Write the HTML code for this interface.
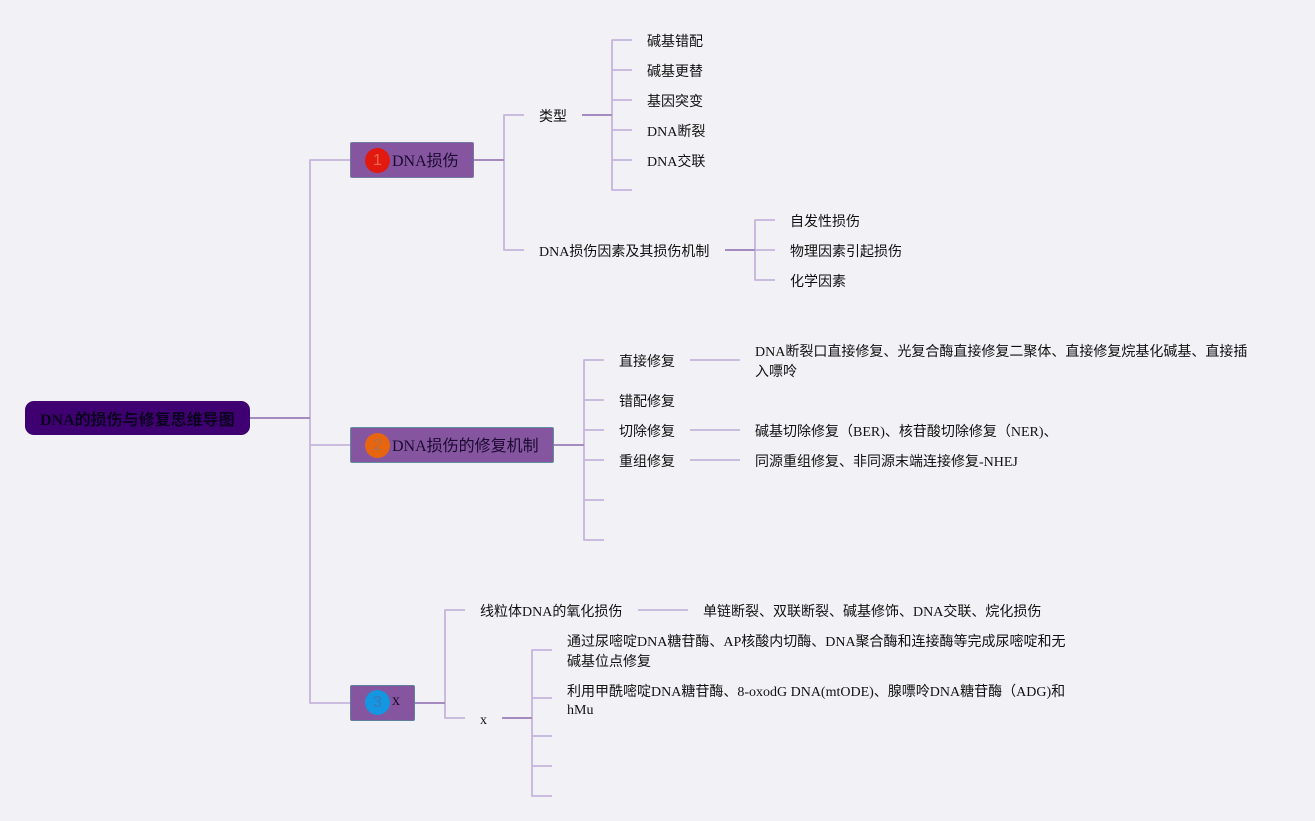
<!DOCTYPE html>
<html lang="zh"><head><meta charset="utf-8"><style>
html,body{margin:0;padding:0;width:1315px;height:821px;overflow:hidden;background:#f2f1f5}
body{position:relative;font-family:"Liberation Serif","WenQuanYi Zen Hei","Noto Sans CJK SC",serif;color:#111}
svg{position:absolute;left:0;top:0}
.t{position:absolute;font-size:14px;line-height:20px;white-space:nowrap}
.b{position:absolute;background:#8655a0;border:1px solid #6f7c9e;box-sizing:border-box;border-radius:2px}
.c{position:absolute;width:25px;height:25px;border-radius:50%;text-align:center;font:16px/25px "Liberation Sans",sans-serif}
.h{font-size:16px;color:#1a0a30}
</style></head><body>
<svg width="1315" height="821" fill="none">
<g stroke="#c5b5dc" stroke-width="1.8" stroke-linejoin="round">
<path d="M350 160H310V703H350M310 445H350"/>
<path d="M524 115H504V250H524"/>
<path d="M632 40H612V190H632M612 70H632M612 100H632M612 130H632M612 160H632"/>
<path d="M775 220H755V280H775M755 250H775"/>
<path d="M604 360H584V540H604M584 400H604M584 430H604M584 460H604M584 500H604"/>
<path d="M690 360H740M690 430H740M690 460H740M638 610H688"/>
<path d="M465 610H445V718H465"/>
<path d="M552 650H532V796H552M532 698H552M532 736H552M532 766H552"/>
</g>
<g stroke="#a48cc0" stroke-width="2">
<path d="M250 418H310M474 160H504M582 115H612M725 250H755M554 445H584M415 703H445M502 718H532"/>
</g>
</svg>
<div style="position:absolute;left:25px;top:401px;width:225px;height:34px;background:#3f0071;border-radius:9px"></div>
<div class="t" style="left:40px;top:411px;font-size:16px;font-weight:bold;color:#0c0020">DNA的损伤与修复思维导图</div>

<div class="b" style="left:350px;top:142px;width:124.4px;height:36px"></div>
<div class="c" style="left:365px;top:147.5px;background:#e2190e;color:#e86a55">1</div>
<div class="t h" style="left:392px;top:152px">DNA损伤</div>

<div class="b" style="left:350px;top:427px;width:204.4px;height:36px;border-color:#5f8f9f"></div>
<div class="c" style="left:365px;top:432.5px;background:#e8650f;color:#a9714f">2</div>
<div class="t h" style="left:392px;top:437px">DNA损伤的修复机制</div>

<div class="b" style="left:350px;top:685px;width:65.4px;height:36px;border-color:#5f7f9f"></div>
<div class="c" style="left:365px;top:690px;background:#1596e0;color:#3a78bb">3</div>
<div class="t h" style="left:392px;top:691px">x</div>

<div class="t" style="left:539px;top:108px">类型</div>
<div class="t" style="left:647px;top:33px">碱基错配</div>
<div class="t" style="left:647px;top:63px">碱基更替</div>
<div class="t" style="left:647px;top:93px">基因突变</div>
<div class="t" style="left:647px;top:123px">DNA断裂</div>
<div class="t" style="left:647px;top:153px">DNA交联</div>
<div class="t" style="left:539px;top:243px">DNA损伤因素及其损伤机制</div>
<div class="t" style="left:790px;top:213px">自发性损伤</div>
<div class="t" style="left:790px;top:243px">物理因素引起损伤</div>
<div class="t" style="left:790px;top:273px">化学因素</div>

<div class="t" style="left:619px;top:353px">直接修复</div>
<div class="t" style="left:619px;top:393px">错配修复</div>
<div class="t" style="left:619px;top:423px">切除修复</div>
<div class="t" style="left:619px;top:453px">重组修复</div>
<div class="t" style="left:755px;top:343px">DNA断裂口直接修复、光复合酶直接修复二聚体、直接修复烷基化碱基、直接插<br>入嘌呤</div>
<div class="t" style="left:755px;top:423px">碱基切除修复（BER)、核苷酸切除修复（NER)、</div>
<div class="t" style="left:755px;top:453px">同源重组修复、非同源末端连接修复-NHEJ</div>

<div class="t" style="left:480px;top:603px">线粒体DNA的氧化损伤</div>
<div class="t" style="left:703px;top:603px">单链断裂、双联断裂、碱基修饰、DNA交联、烷化损伤</div>
<div class="t" style="left:480px;top:711px">x</div>
<div class="t" style="left:567px;top:633px">通过尿嘧啶DNA糖苷酶、AP核酸内切酶、DNA聚合酶和连接酶等完成尿嘧啶和无<br>碱基位点修复</div>
<div class="t" style="left:567px;top:684px;line-height:18px">利用甲酰嘧啶DNA糖苷酶、8-oxodG DNA(mtODE)、腺嘌呤DNA糖苷酶（ADG)和<br>hMu</div>
</body></html>
